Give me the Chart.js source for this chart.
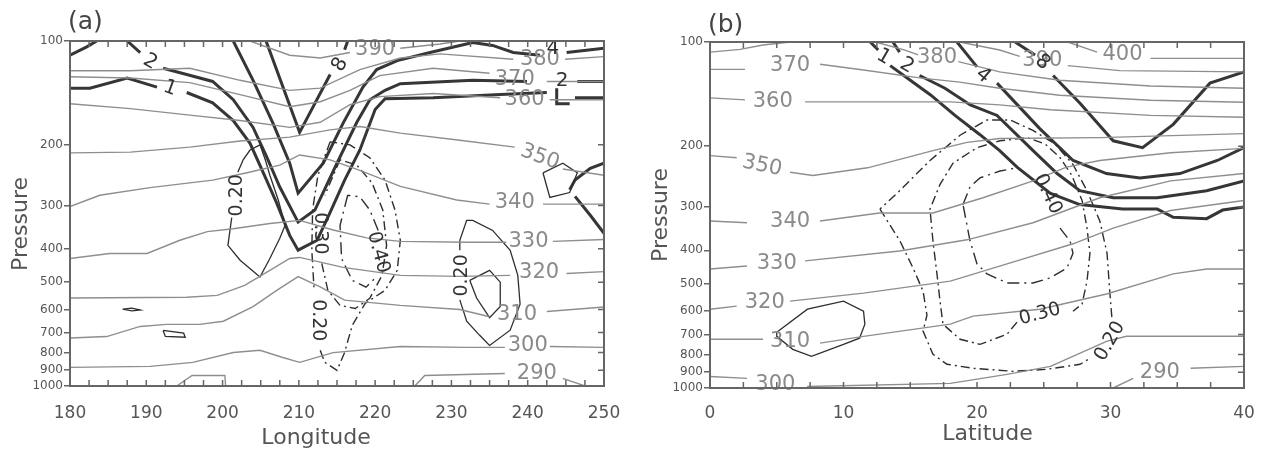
<!DOCTYPE html>
<html>
<head>
<meta charset="utf-8">
<script src="https://cdn.jsdelivr.net/npm/chart.js@4.4.0/dist/chart.umd.min.js"></script>
<style>
  html, body { margin: 0; padding: 0; background: #fff; }
  #wrap { position: relative; width: 1267px; height: 451px; }
  .panel { position: absolute; top: 0; height: 451px; }
  #panelA { left: 0; width: 633px; }
  #panelB { left: 633px; width: 634px; }
</style>
</head>
<body>
<div id="wrap">
  <div class="panel" id="panelA"><canvas id="chartA"></canvas></div>
  <div class="panel" id="panelB"><canvas id="chartB"></canvas></div>
</div>
<script>
// Pressure levels (hPa) used for the vertical axis ticks
const pressureTicks = [100, 200, 300, 400, 500, 600, 700, 800, 900, 1000];

// ---- Panel (a): longitude / pressure section. Points are [longitude, hPa], null = gap for a label
const theta390a = [[203.6,100],[208.8,110],[212.8,112],[216.7,108],null,[223.3,105],[228.5,102],[231.1,100]];
const theta380a = [[180,122],[187.9,122],[195.7,120],[202.3,130],[208.8,139],[212.8,137],[218.0,121],[223.3,112],[228.5,109],[238.1,113],null,[244.9,113],[250,111]];
const theta370a = [[180,127],[187.9,128],[195.7,132],[202.3,143],[208.8,155],[212.8,150],[216.7,139],[220.6,126],[227.6,120],[235.0,124],null,[242.5,131],[250,131]];
const theta360a = [[180,152],[187.9,157],[195.7,164],[202.3,170],[208.8,178],[212.8,172],[216.7,153],[220.6,145],[227.6,142],[236.4,146],null,[242.9,148],[250,148]];
const theta350a = [[180,211],[187.9,210],[195.7,203],[202.3,195],[208.8,190],[214.1,181],[218.0,177],[223.3,185],[231.1,194],[238.3,203],null,[244.6,235],[250,245]];
const theta340a = [[180,302],[183.9,280],[190.5,266],[198.7,253],[203.2,241],[207.5,229],[210.1,214],[214.1,221],[218.0,237],[223.3,264],[230.7,289],[235.0,297],null,[242.0,297],[250,297]];
const theta330a = [[180,427],[185.2,413],[190.1,413],[194.4,378],[198.0,357],[201.4,350],[206.2,338],[210.1,331],[214.5,353],[218.9,372],[223.3,381],[232.0,383],[237.2,383],null,[243.3,381],[250,376]];
const theta320a = [[180,556],[195.3,553],[199.3,546],[202.9,511],[206.2,462],[208.8,427],[210.1,424],[215.8,453],[223.3,478],[231.1,481],[237.7,478],null,[245.1,472],[250,466]];
const theta310a = [[180,726],[184.8,719],[189.2,672],[192.7,663],[197.0,663],[200.1,649],[204.0,589],[207.1,528],[209.9,482],[212.8,516],[216.0,564],[223.3,584],[231.1,600],[235.0,630],null,[242.5,608],[250,590]];
const theta300a = [[180,883],[190.5,877],[196.1,854],[201.4,800],[204.9,788],[207.9,827],[210.1,854],[214.5,800],[223.3,768],[232.0,773],[237.0,773],null,[242.9,768],[250,773]];
const theta290a = [[225.2,1000],[226.5,932],[237.0,920],null,[244.6,950],[247.5,1000],null,[194.0,1000],[196.0,932],[200.3,932],[200.4,1000]];

const thickCornerA = [[180,110],[182.2,104],[183.5,100]];
const thick1a = [[180,137],[182.6,137],[187.5,128],[191.4,136],null,[195.3,141],[198.7,151],[201.4,170],[203.6,198],[205.3,240],[207.1,295],[208.8,366],[209.9,404],[212.4,378],[214.1,314],[216.0,253],[218.0,207],[220.0,158],[221.3,147],[227.6,146],[236.4,143],[242.5,141],null,[243.8,137],[243.8,152],[245.5,152],null,[246.2,146],[250,146]];
const thick2a = [[187.5,100],[189.2,108],null,[192.2,120],[195.3,125],[198.7,131],[201.4,148],[204.0,178],[205.8,217],[207.5,265],[209.9,335],[212.1,309],[215.0,226],[217.6,172],[219.3,148],[221.3,139],[223.3,133],[232.8,130],[239.9,131],null,[246.5,131],[250,131]];
const thick4a = [[201.4,100],[204.0,130],[206.6,173],[208.8,226],[209.9,276],[213.2,226],[215.8,173],[218.4,136],[220.2,121],[222.9,114],[227.2,108],[232.8,101],[235.4,103],[238.1,108],[241.6,110],null,[245.1,108],[250,105]];
const thick8a = [[205.7,100],[210.1,184],[214.1,125],null,[216.0,106],[216.4,100]];
const thickEdgeA = [[250,226],[248.2,234],[246.2,253],[245.5,270],null,[246.2,282],[248.2,320],[250,361]];

const solidWestA = [[204.9,200],[203.6,207],[202.7,221],[202.0,240],null,[201.2,325],[200.7,391],[202.3,432],[204.9,483],[206.2,427],[207.5,373],[208.2,342],[207.3,289],[206.2,245],[205.6,221],[204.9,200]];
const solidEastA = [[231.1,563],[232.0,649],[233.7,713],[235.0,763],[237.7,689],[239.0,579],[238.7,478],[237.7,404],[235.4,354],[232.8,331],[232.0,331],[231.1,378],[231.1,404]];
const solidCoreA = [[232.4,494],[235.0,462],[236.4,500],[236.4,588],[235.0,634],[233.3,556],[232.4,494]];
const blob1a = [[186.9,599],[188.1,595],[189.2,602],[188.1,606],[186.9,599]];
const blob2a = [[192.2,690],[194.9,703],[195.1,722],[192.5,718],[192.2,690]];
const blob3a = [[242.0,241],[244.6,226],[246.5,241],[245.5,275],[242.9,284],[242.0,241]];

const dash020a = [[214.1,196],[212.5,245],[211.8,309],[211.7,404],[212.0,528],null,[212.8,788],[213.4,854],[215.0,901],[216.0,799],[217.0,667],[218.7,576],[221.3,528],[222.9,462],[223.3,378],[222.6,309],[221.3,253],[219.3,218],[216.7,200],[214.1,196]];
const dash030a = [[215.4,221],[213.4,280],null,[213.0,441],[213.8,528],[215.4,584],[217.4,596],[219.3,557],[220.9,478],[221.5,391],[221.0,309],[219.6,258],[217.6,229],[215.4,221]];
const dash040a = [[216.4,280],[215.4,342],[215.6,427],[217.0,494],[218.8,517],[220.0,487],null,[220.4,354],[219.3,309],[218.0,283],[216.4,280]];

// [text, x, pressure, rotation in degrees]
const thetaLabelsA = [['390',220.0,106,0],['380',241.6,113,0],['370',238.3,129,0],['360',239.6,148,0],['350',241.6,217,20],['340',238.3,293,0],['330',240.1,382,0],['320',241.5,470,0],['310',238.6,620,0],['300',240.0,764,0],['290',241.2,922,0]];
const thickLabelsA = [['2',190.5,115,30],['1',193.1,137,20],['8',215.4,117,-60],['2',244.5,130,0],['4',243.3,105,0]];
const contourLabelsA = [['0.20',201.9,280,-90],['0.20',231.4,478,-90],['0.20',212.5,645,90],['0.30',212.8,361,90],['0.40',220.4,410,75]];

// ---- Panel (b): latitude / pressure section. Points are [latitude, hPa]
const theta400b = [[26.8,100],[29.0,107],null,[33.0,111.5],[40,111.5]];
const theta390b = [[18.7,100],[21.7,105.5],[23.2,110],null,[26.8,117],[30.7,121],[40,122]];
const theta380b = [[0,107],[2.25,105],[3.97,102],[6.0,100],null,[12.4,100],[14.6,105.5],[15.6,109],null,[18.6,114],[21.7,122],[26.2,129],[33.0,134],[40,136]];
const theta370b = [[0,120],[2.62,120],null,[8.24,116],[11.5,120.5],[15.7,127],[18.7,130.6],[21.7,136],[26.2,142.5],[33.0,147.3],[40,149.3]];
const theta360b = [[0,145],[2.62,147],null,[7.12,149],[14.2,149],[18.0,149],[21.7,152],[25.5,157],[33.0,163],[40,165]];
const theta350b = [[0,213],[2.0,216],null,[6.0,238],[7.7,243],[11.8,231],[16.7,206],[19.25,195],[21.7,190],[29.2,189],[40,184]];
const theta340b = [[0,329],[2.77,333],null,[8.24,329],[12.7,312],[16.7,312],[20.45,282],[24.2,252],[26.7,230],[29.2,220],[34.5,209],[40,203]];
const theta330b = [[0,453],[2.77,444],null,[7.12,429],[14.2,402],[19.25,373],[24.2,333],[29.2,282],[34.5,252],[40,240]];
const theta320b = [[0,592],[2.0,580],null,[6.0,561],[11.5,532],[18.0,491],[22.25,438],[27.2,383],[30.2,345],[34.5,307],[40,287]];
const theta310b = [[0,723],[3.97,723],null,[8.24,742],[11.5,709],[18.0,654],[19.7,620],[24.7,592],[29.7,535],[34.7,468],[37.2,453],[40,453]];
const theta300b = [[0,926],[2.77,938],null,[7.27,990],[18.0,970],[22.25,913],[25.5,866],[29.7,733],[31.2,709],[40,709]];
const theta290b = [[30.2,1000],[31.7,938],null,[36.0,877],[40,866]];

const thick1b = [[12.0,100],[12.6,105.5],null,[13.5,117],[15.0,129],[16.5,142],[18.35,163],[20.2,185],[21.7,206],[23.0,230],[25.5,274],[27.7,295],[30.9,304],[33.5,304],[34.7,321],[37.2,324],[38.4,306],[40,300]];
const thick2b = [[13.7,100],[14.2,107],null,[15.7,125],[17.6,136],[19.5,152],[21.5,163],[24.2,206],[26.0,240],[27.7,269],[30.2,282],[33.5,282],[37.2,269],[40,252]];
const thick4b = [[18.5,100],[20.0,118],null,[21.5,131.5],[24.7,178],[27.2,220],[29.7,240],[32.2,247],[35.2,240],[38.0,220],[40,202]];
const thick8b = [[22.85,100],[24.35,109],null,[25.7,125],[27.7,150],[30.2,193],[32.4,202],[34.7,173],[37.45,131.5],[40,122]];

const solidB = [[5.0,690],[7.3,592],[10.0,561],[11.5,600],[11.6,654],[11.2,718],[10.0,748],[7.6,810],[6.2,773],[5.0,709],[5.0,690]];

const dash020b = [[12.73,304],[14.23,376],[15.21,450],[15.96,525],[16.25,616],[15.96,685],[16.7,799],[17.75,854],[19.7,877],[22.7,895],[25.24,883],[27.72,854],[28.46,821],null,[30.1,624],[29.96,535],[29.74,408],[29.2,329],[28.24,269],[27.19,226],[25.84,197],[24.19,180],[22.47,168],[20.75,168],[18.73,186],[16.48,220],[14.0,274],[12.73,304]];
const dash030b = [[23.0,645],[22.25,699],[20.22,748],[18.73,723],[17.45,654],[17.23,561],[17.0,468],[16.7,376],[16.48,304],[17.23,258],[18.2,224],[20.0,202],[21.72,193],[23.75,189],[25.1,197],[26.22,216],[27.1,243],[27.87,287],[28.24,345],[28.46,408],[28.24,491],[27.87,572],[27.19,600]];
const dash040b = [[18.95,295],[19.48,262],[20.22,247],[21.72,236],[23.0,231],null,[26.22,345],[26.97,376],[27.19,408],[26.74,450],[25.47,481],[24.19,497],[22.25,497],[20.75,468],[20.0,438],[19.48,376],[18.95,295]];

const thetaLabelsB = [['400',30.9,109,0],['390',24.9,113,0],['380',17.0,111,0],['370',6.0,117,0],['360',4.7,149,0],['350',3.9,228,12],['340',6.0,330,0],['330',5.0,437,0],['320',4.1,568,0],['310',6.0,733,0],['300',4.9,977,0],['290',33.7,900,0]];
const thickLabelsB = [['1',13.0,110.5,30],['2',14.75,117,30],['4',20.45,125,40],['8',24.9,114.5,40]];
const contourLabelsB = [['0.40',25.3,275,65],['0.30',24.72,612,-15],['0.20',29.96,733,-60]];

// ---- styling
const FONT = '"DejaVu Sans", "Liberation Sans", sans-serif';
const lineStyles = {
  theta:   { borderColor: '#8e8e8e', borderWidth: 1.4 },
  thick:   { borderColor: '#363636', borderWidth: 3 },
  solid:   { borderColor: '#2e2e2e', borderWidth: 1.3 },
  dashdot: { borderColor: '#2e2e2e', borderWidth: 1.4, borderDash: [9, 4, 2, 4] },
  dashed:  { borderColor: '#2e2e2e', borderWidth: 1.4, borderDash: [12, 5, 2, 5] }
};

// turn [[x, p], null, ...] into chart points; null leaves a gap
function toPoints(list) {
  const pts = [];
  list.forEach(pt => {
    if (pt === null) pts.push({ x: pts.length ? pts[pts.length - 1].x : 0, y: null });
    else pts.push({ x: pt[0], y: pt[1] });
  });
  return pts;
}

function contour(list, kind) {
  return {
    data: toPoints(list),
    showLine: true,
    pointRadius: 0,
    pointHoverRadius: 0,
    spanGaps: false,
    tension: 0,
    fill: false,
    ...lineStyles[kind]
  };
}

// contour labels, plot frame and inward minor ticks
const panelFrame = {
  id: 'panelFrame',
  afterDatasetsDraw(chart, args, opts) {
    const { ctx, chartArea: ca, scales: { x, y } } = chart;
    ctx.save();
    ctx.textAlign = 'center';
    ctx.textBaseline = 'middle';
    opts.labels.forEach(group => {
      ctx.font = group.font;
      ctx.fillStyle = group.color;
      group.items.forEach(([t, xv, yv, rot]) => {
        ctx.save();
        ctx.translate(x.getPixelForValue(xv), y.getPixelForValue(yv));
        ctx.rotate((rot || 0) * Math.PI / 180);
        ctx.fillText(t, 0, 0);
        ctx.restore();
      });
    });
    ctx.restore();

    ctx.save();
    ctx.strokeStyle = '#666';
    ctx.lineWidth = 2;
    ctx.strokeRect(ca.left, ca.top, ca.right - ca.left, ca.bottom - ca.top);
    ctx.lineWidth = 1.5;
    ctx.beginPath();
    for (let v = x.min; v <= x.max + 1e-6; v += opts.minorStep) {
      const px = x.getPixelForValue(v);
      ctx.moveTo(px, ca.bottom); ctx.lineTo(px, ca.bottom - 6);
      ctx.moveTo(px, ca.top); ctx.lineTo(px, ca.top + 6);
    }
    pressureTicks.forEach(v => {
      const py = y.getPixelForValue(v);
      ctx.moveTo(ca.right, py); ctx.lineTo(ca.right - 6, py);
    });
    ctx.stroke();
    ctx.font = '25px ' + FONT;
    ctx.fillStyle = '#444';
    ctx.textAlign = 'left';
    ctx.textBaseline = 'middle';
    ctx.fillText(opts.tag, ca.left - 2, ca.top - opts.tagOffset);
    ctx.restore();
  }
};

function makeChart(canvasId, cfg) {
  const ctx = document.getElementById(canvasId).getContext('2d');
  return new Chart(ctx, {
    type: 'scatter',
    data: { datasets: cfg.datasets },
    options: {
      responsive: true,
      maintainAspectRatio: false,
      animation: false,
      layout: { padding: cfg.padding },
      plugins: {
        legend: { display: false },
        tooltip: { enabled: false },
        panelFrame: {
          tag: cfg.tag,
          tagOffset: cfg.tagOffset,
          minorStep: 2.5,
          labels: [
            { font: '21px ' + FONT, color: '#8a8a8a', items: cfg.thetaLabels },
            { font: '20px ' + FONT, color: '#333', items: cfg.thickLabels },
            { font: '19px ' + FONT, color: '#333', items: cfg.contourLabels }
          ]
        }
      },
      scales: {
        x: {
          type: 'linear',
          min: cfg.xMin,
          max: cfg.xMax,
          afterFit: s => { s.height = cfg.xHeight; },
          ticks: { stepSize: 10, font: { size: 17, family: FONT }, color: '#555', padding: cfg.xTickPad },
          grid: { display: false },
          border: { display: false },
          title: { display: true, text: cfg.xTitle, font: { size: 22, family: FONT }, color: '#555', padding: { bottom: cfg.xTitlePad, top: 0 } }
        },
        y: {
          type: 'logarithmic',
          reverse: true,
          min: 100,
          max: 1000,
          afterBuildTicks: s => { s.ticks = pressureTicks.map(v => ({ value: v })); },
          afterFit: s => { s.width = cfg.yWidth; },
          ticks: { callback: v => String(v), autoSkip: false, font: { size: 12, family: FONT }, color: '#555', padding: 1 },
          grid: { drawOnChartArea: false, drawTicks: true, tickLength: 6, color: '#666', lineWidth: 1.5 },
          border: { display: false },
          title: { display: true, text: cfg.yTitle, font: { size: 22, family: FONT }, color: '#555', padding: { top: cfg.yTitlePad, bottom: 0 } }
        }
      }
    },
    plugins: [panelFrame]
  });
}

const datasetsA = [
  ...[theta390a, theta380a, theta370a, theta360a, theta350a, theta340a, theta330a, theta320a, theta310a, theta300a, theta290a].map(l => contour(l, 'theta')),
  ...[solidWestA, solidEastA, solidCoreA, blob1a, blob2a, blob3a].map(l => contour(l, 'solid')),
  contour(dash020a, 'dashdot'),
  contour(dash030a, 'dashdot'),
  contour(dash040a, 'dashed'),
  ...[thickCornerA, thick1a, thick2a, thick4a, thick8a, thickEdgeA].map(l => contour(l, 'thick'))
];

const datasetsB = [
  ...[theta400b, theta390b, theta380b, theta370b, theta360b, theta350b, theta340b, theta330b, theta320b, theta310b, theta300b, theta290b].map(l => contour(l, 'theta')),
  contour(solidB, 'solid'),
  contour(dash020b, 'dashdot'),
  contour(dash030b, 'dashdot'),
  contour(dash040b, 'dashed'),
  ...[thick1b, thick2b, thick4b, thick8b].map(l => contour(l, 'thick'))
];

// trailing/leading spaces nudge the axis titles off the panel centre
makeChart('chartA', {
  datasets: datasetsA, tag: '(a)', tagOffset: 19,
  xMin: 180, xMax: 250, xTitle: 'Longitude      ', yTitle: 'Pressure   ',
  padding: { top: 41, right: 29, left: 0, bottom: 0 },
  yWidth: 70, xHeight: 65, xTickPad: 9, xTitlePad: 0, yTitlePad: 8,
  thetaLabels: thetaLabelsA, thickLabels: thickLabelsA, contourLabels: contourLabelsA
});

makeChart('chartB', {
  datasets: datasetsB, tag: '(b)', tagOffset: 17,
  xMin: 0, xMax: 40, xTitle: '   Latitude', yTitle: 'Pressure',
  padding: { top: 42, right: 23, left: 0, bottom: 0 },
  yWidth: 77, xHeight: 63, xTickPad: 7, xTitlePad: 4, yTitlePad: 15,
  thetaLabels: thetaLabelsB, thickLabels: thickLabelsB, contourLabels: contourLabelsB
});
</script>
</body>
</html>
